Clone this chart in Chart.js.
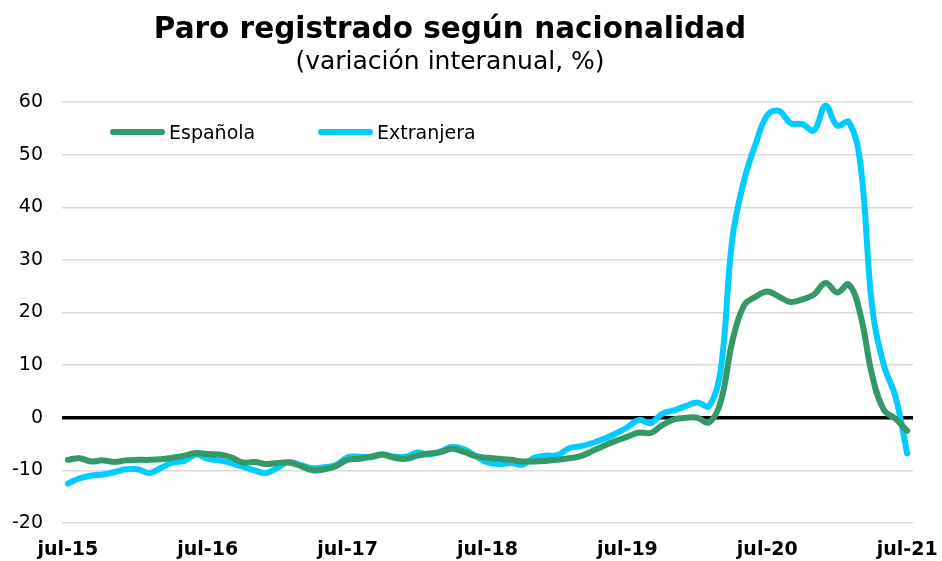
<!DOCTYPE html>
<html>
<head>
<meta charset="utf-8">
<script src="https://cdn.jsdelivr.net/npm/chart.js@4.4.1/dist/chart.umd.min.js"></script>
<style>
  body { margin: 0; background: #fff; font-family: "DejaVu Sans", Verdana, sans-serif; }
  #wrap { position: relative; width: 942px; height: 561px; }
  #main-chart { position: absolute; left: 0; top: 0; }
  .title { position: absolute; left: 0; width: 900px; text-align: center; color: #000; white-space: nowrap; }
  #t1 { top: 11px; font-size: 29.5px; font-weight: bold; }
  #t2 { top: 46px; font-size: 25px; }
  .leg { position: absolute; top: 121px; font-size: 19px; color: #000; display: flex; align-items: center; height: 22px; }
  .leg span.bar { display: inline-block; width: 55px; height: 6px; border-radius: 3px; margin-right: 4px; }
</style>
</head>
<body>
<div id="wrap">
  <canvas id="main-chart" width="942" height="561"></canvas>
  <div class="title" id="t1">Paro registrado según nacionalidad</div>
  <div class="title" id="t2">(variación interanual, %)</div>
  <div class="leg" style="left:110px"><span class="bar" style="background:#339966"></span>Española</div>
  <div class="leg" style="left:318px"><span class="bar" style="background:#00ccff"></span>Extranjera</div>
</div>
<script>
// meses jul-15 .. jul-21
var monthNames = ['ene', 'feb', 'mar', 'abr', 'may', 'jun', 'jul', 'ago', 'sep', 'oct', 'nov', 'dic'];
var years = ['15', '16', '17', '18', '19', '20', '21'];

var categories = [];
for (var k = 6; k < 6 + 73; k++) {
	categories.push(monthNames[k % 12] + '-' + years[Math.floor(k / 12)]);
}

var espanola = [
	-8.0, -7.7, -8.3, -8.1, -8.4, -8.1, -8.0, -8.0, -7.9, -7.6, -7.2, -6.7,
	-6.9, -7.0, -7.5, -8.5, -8.4, -8.8, -8.6, -8.5, -9.2, -10.0, -9.8, -9.2,
	-8.0, -7.8, -7.4, -7.0, -7.6, -7.8, -7.2, -6.8, -6.5, -5.9, -6.5, -7.3,
	-7.6, -7.8, -8.0, -8.3, -8.3, -8.2, -8.0, -7.7, -7.3, -6.3, -5.3, -4.4,
	-3.6, -2.8, -2.9, -1.4, -0.3, 0.0, 0.0, -0.9, 3.0, 14.5, 21.3, 23.0,
	24.0, 23.0, 22.0, 22.5, 23.4, 25.6, 23.8, 25.3, 19.5, 8.0, 1.5, -0.2,
	-2.5
];

var extranjera = [
	-12.5, -11.5, -11.0, -10.8, -10.3, -9.8, -9.8, -10.5, -9.5, -8.5, -8.2, -7.0,
	-7.8, -8.1, -8.6, -9.3, -10.0, -10.5, -9.5, -8.4, -9.0, -9.6, -9.4, -9.0,
	-7.5, -7.4, -7.5, -7.0, -7.4, -7.4, -6.6, -7.0, -6.4, -5.5, -6.0, -7.3,
	-8.5, -8.8, -8.6, -8.9, -7.6, -7.2, -7.1, -5.8, -5.4, -4.8, -4.0, -3.0,
	-1.8, -0.4, -1.0, 0.8, 1.4, 2.2, 2.9, 2.2, 9.0, 34.0, 45.0, 52.0,
	57.5, 58.3, 56.0, 55.8, 54.6, 59.3, 55.5, 56.2, 48.0, 21.0, 10.0, 4.0,
	-6.8
];

var ctx = document.getElementById('main-chart');

var chart = new Chart(ctx, {
	type: 'line',
	data: {
		labels: categories,
		datasets: [
			{ label: 'Española', data: espanola, borderColor: '#339966', backgroundColor: '#339966', borderWidth: 6, pointRadius: 0, tension: 0.4, borderCapStyle: 'round', borderJoinStyle: 'round' },
			{ label: 'Extranjera', data: extranjera, borderColor: '#00ccff', backgroundColor: '#00ccff', borderWidth: 6, pointRadius: 0, tension: 0.4, borderCapStyle: 'round', borderJoinStyle: 'round' }
		]
	},
	options: {
		responsive: false,
		animation: false,
		layout: { padding: { left: 0, right: 29, top: 102, bottom: 0 } },
		plugins: {
			legend: { display: false },
			title: { display: false },
			tooltip: { enabled: false }
		},
		scales: {
			x: {
				offset: true,
				grid: { display: false },
				border: { display: false },
				afterFit: function (axis) {
					// fixed height, no extra room for edge labels
					axis.height = 38;
					axis.paddingLeft = 0;
					axis.paddingRight = 0;
				},
				ticks: {
					autoSkip: false,
					maxRotation: 0,
					padding: 8,
					color: '#000',
					font: { family: '"DejaVu Sans", Verdana, sans-serif', size: 19, weight: 'bold' },
					callback: function (v, i) { return i % 12 === 0 ? categories[i] : null; }
				}
			},
			y: {
				min: -20,
				max: 60,
				border: { display: false },
				afterFit: function (axis) {
					axis.width = 62;
				},
				grid: {
					drawTicks: false,
					color: function (c) { return c.tick && c.tick.value === 0 ? '#000' : '#d9d9d9'; },
					lineWidth: function (c) { return c.tick && c.tick.value === 0 ? 3.5 : 1.5; }
				},
				ticks: {
					stepSize: 10,
					padding: 19,
					color: '#000',
					font: { family: '"DejaVu Sans", Verdana, sans-serif', size: 19 }
				}
			}
		}
	}
});
</script>
</body>
</html>
